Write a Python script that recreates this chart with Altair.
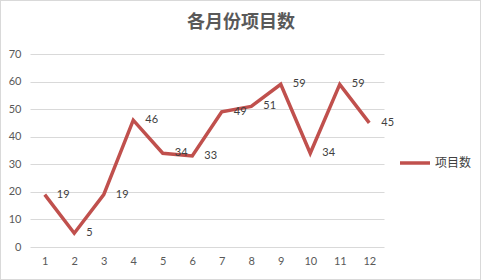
import altair as alt
import pandas as pd

months = [str(i) for i in range(1, 13)]
counts = [19, 5, 19, 46, 34, 33, 49, 51, 59, 34, 59, 45]
series_name = "项目数"
title_text = "各月份项目数"
y_ticks = [0, 10, 20, 30, 40, 50, 60, 70]

df = pd.DataFrame({"month": months, "count": counts, "series": [series_name] * 12})

x_enc = alt.X("month:O", sort=months, scale=alt.Scale(type="point", padding=0.5),
              axis=alt.Axis(title=None, labelAngle=0, domain=False, ticks=False,
                            labelPadding=8, labelColor="#595959", labelFont="Lato",
                            labelFontSize=11))
y_enc = alt.Y("count:Q", scale=alt.Scale(domain=[0, 70], nice=False),
              axis=alt.Axis(title=None, values=y_ticks, domain=False,
                            ticks=False, labelPadding=9, labelColor="#595959",
                            labelFont="Lato", labelFontSize=11, gridColor="#d9d9d9",
                            gridWidth=1, labelOverlap=False))

line = alt.Chart(df).mark_line(strokeWidth=3.5, strokeJoin="miter").encode(
    x=x_enc, y=y_enc,
    color=alt.Color("series:N", scale=alt.Scale(domain=[series_name], range=["#C0504D"]),
                    legend=alt.Legend(title=None, orient="none", legendX=368, legendY=92,
                                      symbolType="stroke", symbolSize=900,
                                      symbolStrokeWidth=3.5, labelFont="Noto Sans CJK SC",
                                      labelFontSize=12, labelColor="#404040",
                                      labelOffset=3)),
)

labels = alt.Chart(df).mark_text(align="left", baseline="middle", dx=12, font="Lato",
                                 fontSize=11, color="#404040").encode(
    x=x_enc, y=y_enc, text="count:Q")

border = alt.Chart(df).mark_rect(fill=None, stroke="#d9d9d9", strokeWidth=1).encode(
    x=alt.value(-29.5), x2=alt.value(450.5), y=alt.value(-53.5), y2=alt.value(225.5))

chart = alt.layer(border, line, labels).properties(
    width=354, height=193,
    autosize=alt.AutoSizeParams(type="none"),
    padding={"left": 30, "top": 54, "right": 97, "bottom": 33},
    title=alt.TitleParams(title_text, font="Noto Sans CJK SC", fontSize=18,
                          fontWeight="bold", color="#595959", anchor="middle",
                          dx=34, dy=32, offset=0),
).configure_view(stroke=None)

chart.save("out.html", embed_options={"renderer": "svg", "actions": False})
